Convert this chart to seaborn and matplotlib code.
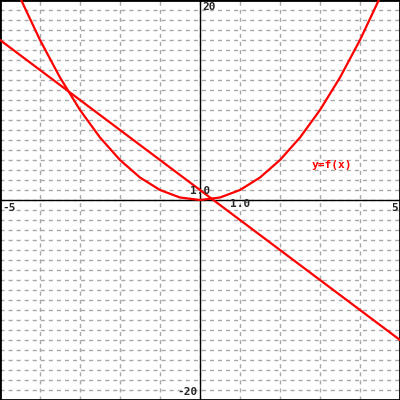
import numpy as np
import pandas as pd
import seaborn as sns
import matplotlib
matplotlib.use("Agg")
import matplotlib.pyplot as plt

# values
curve_x = [-5.0, -4.5, -4.0, -3.5, -3.0, -2.5, -2.0, -1.5, -1.0, -0.5, 0.0,
           0.5, 1.0, 1.5, 2.0, 2.5, 3.0, 3.5, 4.0, 4.5, 5.0]
curve_y = [25.0, 20.25, 16.0, 12.25, 9.0, 6.25, 4.0, 2.25, 1.0, 0.25, 0.0,
           0.25, 1.0, 2.25, 4.0, 6.25, 9.0, 12.25, 16.0, 20.25, 25.0]
line_x = [-5.0, 5.0]
line_y = [16.0, -14.0]

x_range = [-5, 5]
y_range = [-20, 20]
curve_label = "y=f(x)"

sns.set_style("white")
plt.rcParams['font.family'] = ['DejaVu Sans Mono']

fig = plt.figure(figsize=(4, 4), dpi=100)
ax = fig.add_axes([0, 0, 1, 1])

curve = pd.DataFrame({'x': curve_x, 'y': curve_y})
line = pd.DataFrame({'x': line_x, 'y': line_y})

ax.set_xticks(np.arange(x_range[0], x_range[1] + 1, 1))
ax.set_yticks(np.arange(y_range[0], y_range[1] + 1, 1))
# about 4px dash / 4px gap
ax.grid(True, color='#a8a8a8', linestyle=(0, (2.9, 2.9)), linewidth=1.0)
ax.tick_params(length=0, labelbottom=False, labelleft=False)

ax.axhline(0, color='black', lw=1.0, zorder=2)
ax.axvline(0, color='black', lw=1.0, zorder=2)

sns.lineplot(data=curve, x='x', y='y', ax=ax, color='#ff0000', lw=1.6,
             sort=False, estimator=None, zorder=3)
sns.lineplot(data=line, x='x', y='y', ax=ax, color='#ff0000', lw=1.6,
             sort=False, estimator=None, zorder=3)

ax.set_xlim(x_range)
ax.set_ylim(y_range)
ax.set_xlabel('')
ax.set_ylabel('')
for s in ax.spines.values():
    s.set_color('black')
    s.set_linewidth(2)

fs = 8
ax.text(0.05, 19.8, '20', fontsize=fs, fontweight='bold', ha='left', va='top')
ax.text(-0.05, -19.7, '-20', fontsize=fs, fontweight='bold', ha='right', va='bottom')
ax.text(-4.95, -0.3, '-5', fontsize=fs, fontweight='bold', ha='left', va='top')
ax.text(4.95, -0.3, '5', fontsize=fs, fontweight='bold', ha='right', va='top')
ax.text(0.0, 0.4, '1.0', fontsize=fs, fontweight='bold', ha='center', va='bottom', zorder=4)
ax.text(1.0, 0.1, '1.0', fontsize=fs, fontweight='bold', ha='center', va='top', zorder=4)
ax.text(2.8, 4.0, curve_label, fontsize=fs, fontweight='bold', color='#ff0000',
        ha='left', va='top')

fig.savefig('out.png', dpi=100)
